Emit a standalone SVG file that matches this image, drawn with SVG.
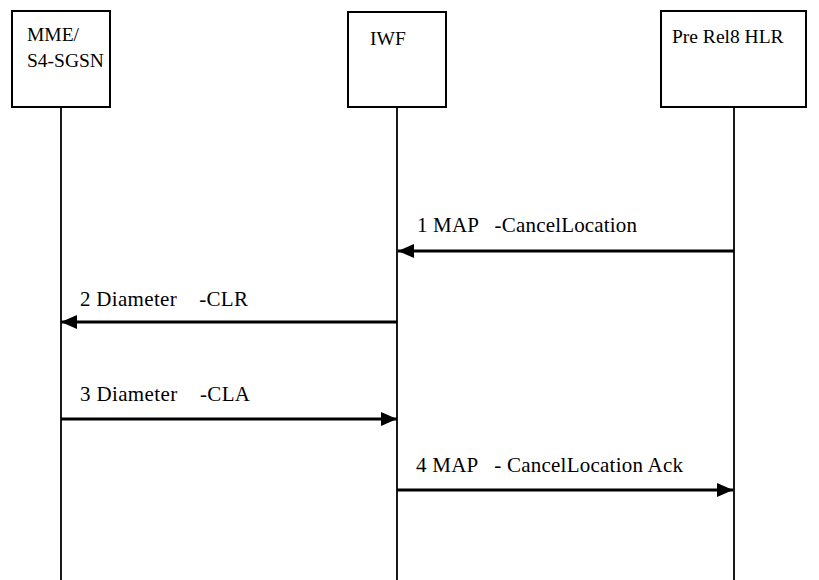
<svg xmlns="http://www.w3.org/2000/svg" width="819" height="580" viewBox="0 0 819 580">
<style>
.box{fill:#fff;stroke:#000;stroke-width:2}
.life{stroke:#000;stroke-width:1.8;fill:none}
.msg{stroke:#000;stroke-width:3.2;fill:none}
text{font-family:"Liberation Serif","Times New Roman",serif;font-size:19.5px;fill:#000}
.lbl{font-size:21px}
</style>
<defs>
<marker id="ah" viewBox="0 0 16 14" refX="16" refY="7" markerWidth="16" markerHeight="14" markerUnits="userSpaceOnUse" orient="auto">
<path d="M0,0 L16,7 L0,14 Z" fill="#000"/>
</marker>
</defs>
<g id="node-mme">
<rect class="box" x="12" y="11" width="98" height="96"/>
<text x="27" y="41">MME/</text>
<text x="27" y="67">S4-SGSN</text>
<line class="life" x1="61" y1="107" x2="61" y2="580"/>
</g>
<g id="node-iwf">
<rect class="box" x="348" y="12" width="98" height="95"/>
<text x="370" y="45">IWF</text>
<line class="life" x1="397" y1="107" x2="397" y2="580"/>
</g>
<g id="node-hlr">
<rect class="box" x="661" y="11" width="145" height="96"/>
<text x="672" y="43">Pre Rel8 HLR</text>
<line class="life" x1="734" y1="107" x2="734" y2="580"/>
</g>
<g id="connectors">
<line class="msg" x1="734" y1="251" x2="398" y2="251" marker-end="url(#ah)"/>
<text class="lbl" x="417" y="232" xml:space="preserve" textLength="220">1 MAP   -CancelLocation</text>
<line class="msg" x1="397" y1="322" x2="61" y2="322" marker-end="url(#ah)"/>
<text class="lbl" x="80" y="306" xml:space="preserve" textLength="168">2 Diameter    -CLR</text>
<line class="msg" x1="61" y1="419" x2="397" y2="419" marker-end="url(#ah)"/>
<text class="lbl" x="80" y="401" xml:space="preserve" textLength="170">3 Diameter    -CLA</text>
<line class="msg" x1="397" y1="490" x2="733" y2="490" marker-end="url(#ah)"/>
<text class="lbl" x="416" y="472" xml:space="preserve" textLength="267">4 MAP   - CancelLocation Ack</text>
</g>
</svg>
